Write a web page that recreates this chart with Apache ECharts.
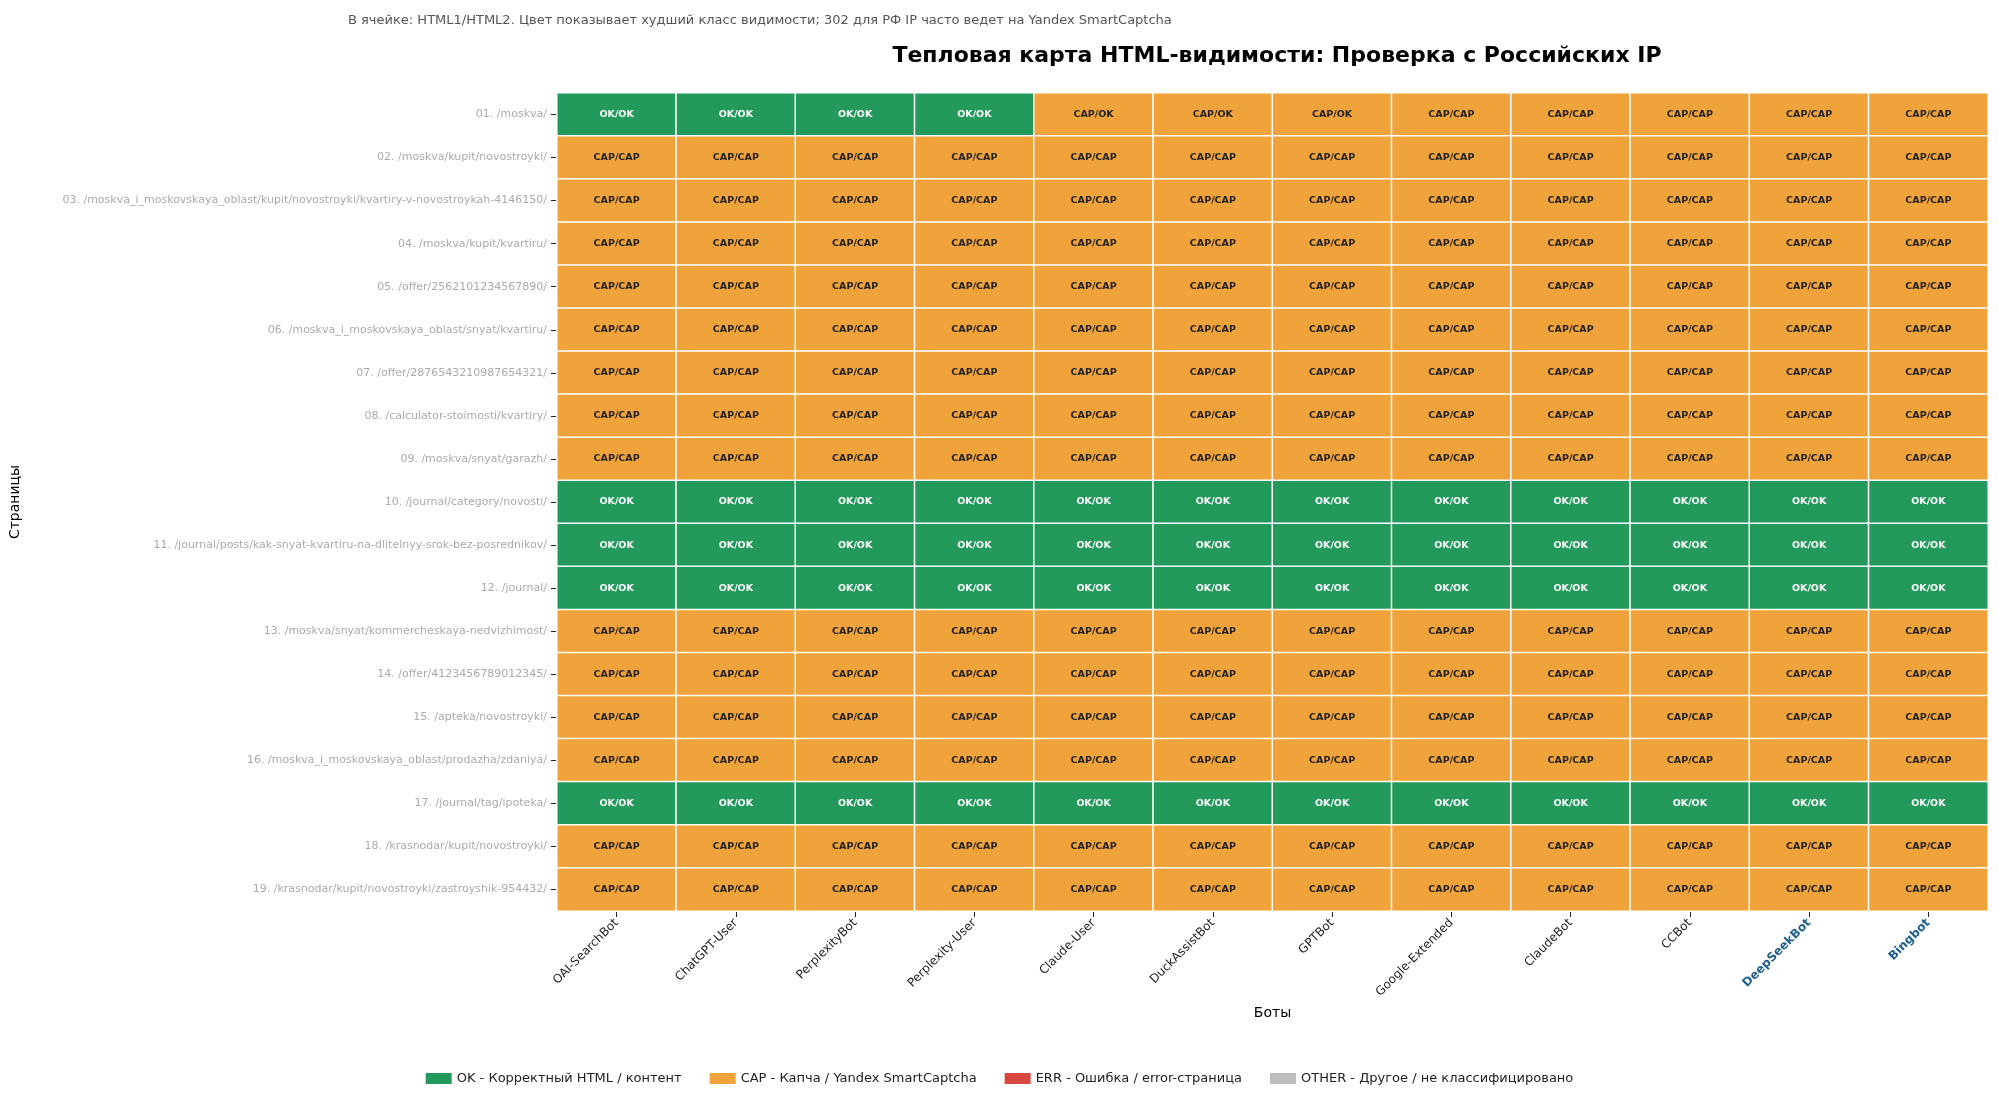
<!DOCTYPE html>
<html><head><meta charset="utf-8">
<script src="https://cdn.jsdelivr.net/npm/echarts@6/dist/echarts.min.js"></script>
<style>html,body{margin:0;padding:0;background:#fff}#c{width:1999px;height:1102px}</style>
</head><body><div id="c"></div>
<script>
const bots = ['OAI-SearchBot','ChatGPT-User','PerplexityBot','Perplexity-User','Claude-User','DuckAssistBot','GPTBot','Google-Extended','ClaudeBot','CCBot','DeepSeekBot','Bingbot'];
const pages = [
 '01. /moskva/',
 '02. /moskva/kupit/novostroyki/',
 '03. /moskva_i_moskovskaya_oblast/kupit/novostroyki/kvartiry-v-novostroykah-4146150/',
 '04. /moskva/kupit/kvartiru/',
 '05. /offer/2562101234567890/',
 '06. /moskva_i_moskovskaya_oblast/snyat/kvartiru/',
 '07. /offer/2876543210987654321/',
 '08. /calculator-stoimosti/kvartiry/',
 '09. /moskva/snyat/garazh/',
 '10. /journal/category/novosti/',
 '11. /journal/posts/kak-snyat-kvartiru-na-dlitelnyy-srok-bez-posrednikov/',
 '12. /journal/',
 '13. /moskva/snyat/kommercheskaya-nedvizhimost/',
 '14. /offer/4123456789012345/',
 '15. /apteka/novostroyki/',
 '16. /moskva_i_moskovskaya_oblast/prodazha/zdaniya/',
 '17. /journal/tag/ipoteka/',
 '18. /krasnodar/kupit/novostroyki/',
 '19. /krasnodar/kupit/novostroyki/zastroyshik-954432/'
];
const row01 = ['OK/OK','OK/OK','OK/OK','OK/OK','CAP/OK','CAP/OK','CAP/OK','CAP/CAP','CAP/CAP','CAP/CAP','CAP/CAP','CAP/CAP'];
const rowCap = Array(12).fill('CAP/CAP');
const rowOk = Array(12).fill('OK/OK');
const cells = [row01,rowCap,rowCap,rowCap,rowCap,rowCap,rowCap,rowCap,rowCap,rowOk,rowOk,rowOk,rowCap,rowCap,rowCap,rowCap,rowOk,rowCap,rowCap];
const classes = ['OK','CAP','ERR','OTHER'];
const classNames = ['OK - Корректный HTML / контент','CAP - Капча / Yandex SmartCaptcha','ERR - Ошибка / error-страница','OTHER - Другое / не классифицировано'];
const classColors = ['#239a5c','#f0a33a','#d9483f','#bdbdbd'];

function worst(s){ let w=0; s.split('/').forEach(p=>{const i=classes.indexOf(p); w=Math.max(w,i<0?3:i);}); return w; }
const data=[];
cells.forEach((r,yi)=>r.forEach((s,xi)=>{
  const w=worst(s);
  data.push({value:[xi,yi,w],label:s,itemStyle:{color:classColors[w]}, lbColor: w===1?'#222':'#fff'});
}));
const chart = echarts.init(document.getElementById('c'));
chart.setOption({
  animation:false,
  title:[
    {text:'Тепловая карта HTML-видимости: Проверка с Российских IP',left:1272,top:40,textAlign:'center',textStyle:{fontFamily:'DejaVu Sans',fontSize:22,fontWeight:'bold',color:'#000'}},
    {text:'В ячейке: HTML1/HTML2. Цвет показывает худший класс видимости; 302 для РФ IP часто ведет на Yandex SmartCaptcha',left:343,top:9,textStyle:{fontFamily:'DejaVu Sans',fontSize:13,fontWeight:'normal',color:'#555'}}
  ],
  grid:{left:555,right:11,top:93,bottom:191,show:true,borderColor:'#222',borderWidth:1.5,backgroundColor:'transparent'},
  legend:{bottom:12,left:'center',itemWidth:26,itemHeight:11,itemGap:28,icon:'rect',textStyle:{fontFamily:'DejaVu Sans',fontSize:13,color:'#222'},data:classNames},
  xAxis:{type:'category',data:bots,name:'Боты',nameLocation:'middle',nameGap:95,nameTextStyle:{fontFamily:'DejaVu Sans',fontSize:14,color:'#000'},
    axisLine:{show:false},axisTick:{show:true,alignWithLabel:true,length:6,lineStyle:{color:'#222'}},splitLine:{show:false},
    axisLabel:{rotate:45,interval:0,fontFamily:'DejaVu Sans',fontSize:12,color:'#222',margin:10,
      formatter:v=>(v==='DeepSeekBot'||v==='Bingbot')?'{b|'+v+'}':v, rich:{b:{fontWeight:'bold',color:'#1f5f8b',fontFamily:'DejaVu Sans',fontSize:12}}}},
  yAxis:{type:'category',data:pages,inverse:true,name:'Страницы',nameLocation:'middle',nameGap:535,nameRotate:90,nameTextStyle:{fontFamily:'DejaVu Sans',fontSize:14,color:'#000'},
    axisLine:{show:false},axisTick:{show:true,alignWithLabel:true,length:6,lineStyle:{color:'#222'}},splitLine:{show:false},
    axisLabel:{interval:0,fontFamily:'DejaVu Sans',fontSize:11,color:'#aaa',margin:10}},
  series:[
    {type:'heatmap',data:data,itemStyle:{borderColor:'#fff',borderWidth:1.5},
     label:{show:true,fontFamily:'DejaVu Sans',fontSize:9.5,fontWeight:'bold',
       formatter:p=>p.data.label, color:'#fff'},
     labelLayout:null},
    ...classNames.map((n,i)=>({type:'bar',name:n,data:[],itemStyle:{color:classColors[i]}}))
  ]
});
// set per-item label colors
chart.setOption({series:[{data:data.map(d=>({value:d.value,label:{color:d.lbColor,formatter:d.label},itemStyle:d.itemStyle}))}]});
</script></body></html>
